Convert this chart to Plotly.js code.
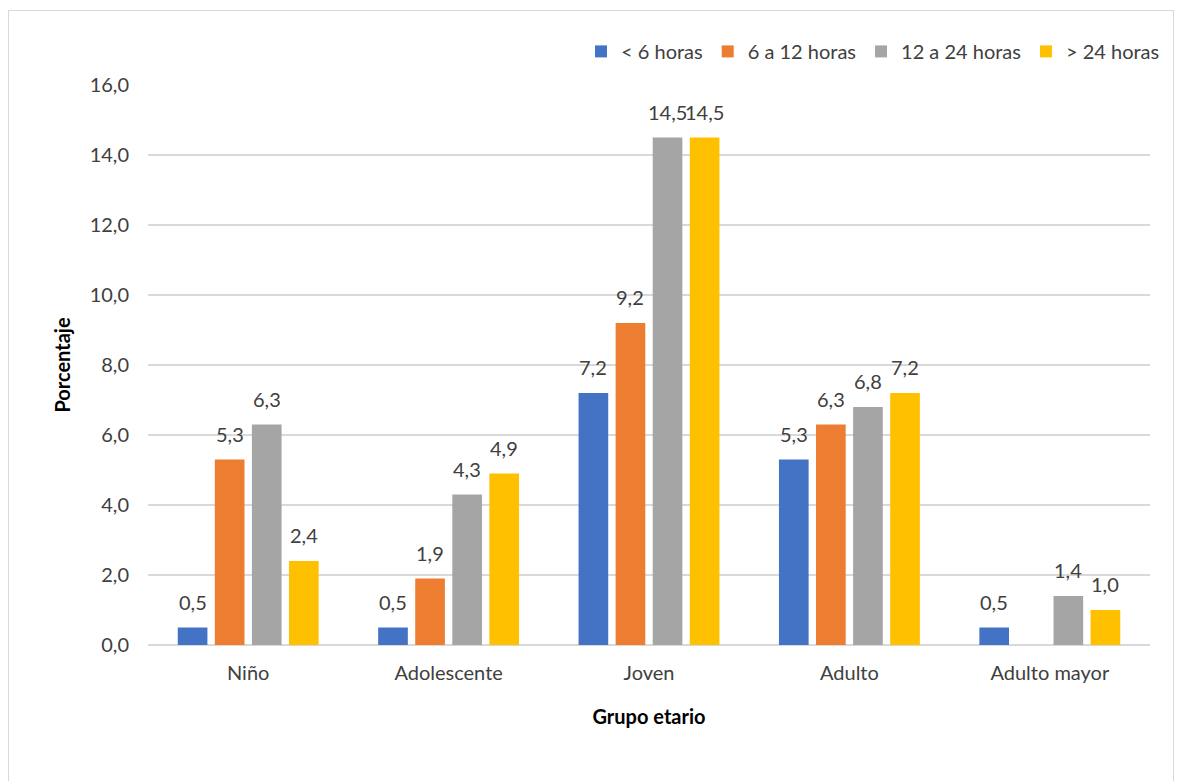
<!DOCTYPE html>
<html>
<head>
<meta charset="utf-8">
<script src="https://cdn.plot.ly/plotly-3.0.1.min.js"></script>
<style>
html,body{margin:0;padding:0;background:#fff;}
#wrap{position:relative;width:1179px;height:781px;overflow:hidden;}
#chart{position:absolute;left:0;top:0;width:1179px;height:781px;}
#frame{position:absolute;left:8px;top:10px;width:1164px;height:800px;border:1.5px solid #d9d9d9;pointer-events:none;}
</style>
</head>
<body>
<div id="wrap"><div id="chart"></div><div id="frame"></div></div>
<script>
const categories = ["Niño", "Adolescente", "Joven", "Adulto", "Adulto mayor"];
const seriesNames = ["< 6 horas", "6 a 12 horas", "12 a 24 horas", "> 24 horas"];
const menos6 = [0.5, 0.5, 7.2, 5.3, 0.5];
const de6a12 = [5.3, 1.9, 9.2, 6.3, null];
const de12a24 = [6.3, 4.3, 14.5, 6.8, 1.4];
const mas24 = [2.4, 4.9, 14.5, 7.2, 1.0];
const colors = ["#4472C4", "#ED7D31", "#A5A5A5", "#FFC000"];
const values = [menos6, de6a12, de12a24, mas24];
const FONT = "Lato, 'Noto Sans', sans-serif";
const FS = 20;

const BARGAP = 0.26, GROUPGAP = 0.2;

const traces = values.map((v, i) => ({
  type: "bar",
  name: seriesNames[i],
  x: categories,
  y: v,
  marker: {color: colors[i]},
  hoverinfo: "x+y+name"
}));

// data labels placed at each bar's slot within its category group
const slot = (1 - BARGAP) / values.length;
const annotations = [];
values.forEach((v, i) => {
  const off = (i - (values.length - 1) / 2) * slot;
  v.forEach((val, j) => {
    if (val === null || val === undefined) return;
    annotations.push({
      x: j + off, y: val, xref: "x", yref: "y",
      text: val.toFixed(1).replace(".", ","),
      showarrow: false, yanchor: "bottom", yshift: 12,
      font: {family: FONT, size: FS, color: "#404040"}
    });
  });
});

const layout = {
  width: 1179, height: 781,
  separators: ",.",
  margin: {l: 148, r: 29, t: 85, b: 136},
  paper_bgcolor: "rgba(0,0,0,0)",
  plot_bgcolor: "#fff",
  barmode: "group",
  bargap: BARGAP,
  bargroupgap: GROUPGAP,
  font: {family: FONT, size: FS, color: "#404040"},
  showlegend: true,
  legend: {
    orientation: "h", x: 1.015, xanchor: "right", y: 1.06, yanchor: "middle",
    font: {family: FONT, size: FS, color: "#404040"},
    itemwidth: 30, tracegroupgap: 0, traceorder: "normal"
  },
  annotations: annotations,
  xaxis: {
    type: "category",
    tickfont: {family: FONT, size: FS, color: "#404040"},
    showline: false, ticks: "", showgrid: false,
    ticklabelstandoff: 14,
    title: {text: "<b>Grupo etario</b>", font: {family: FONT, size: 20, color: "#000"}, standoff: 26}
  },
  yaxis: {
    range: [0, 16], dtick: 2, tickformat: ".1f",
    tickfont: {family: FONT, size: FS, color: "#404040"},
    gridcolor: "#d9d9d9", gridwidth: 1.5,
    zeroline: true, zerolinecolor: "#d9d9d9", zerolinewidth: 1.5,
    showline: false, ticks: "",
    ticklabelstandoff: 18,
    title: {text: "<b>Porcentaje</b>", font: {family: FONT, size: 20, color: "#000"}, standoff: 13}
  }
};

Plotly.newPlot("chart", traces, layout, {displayModeBar: false, staticPlot: true});
</script>
</body>
</html>
